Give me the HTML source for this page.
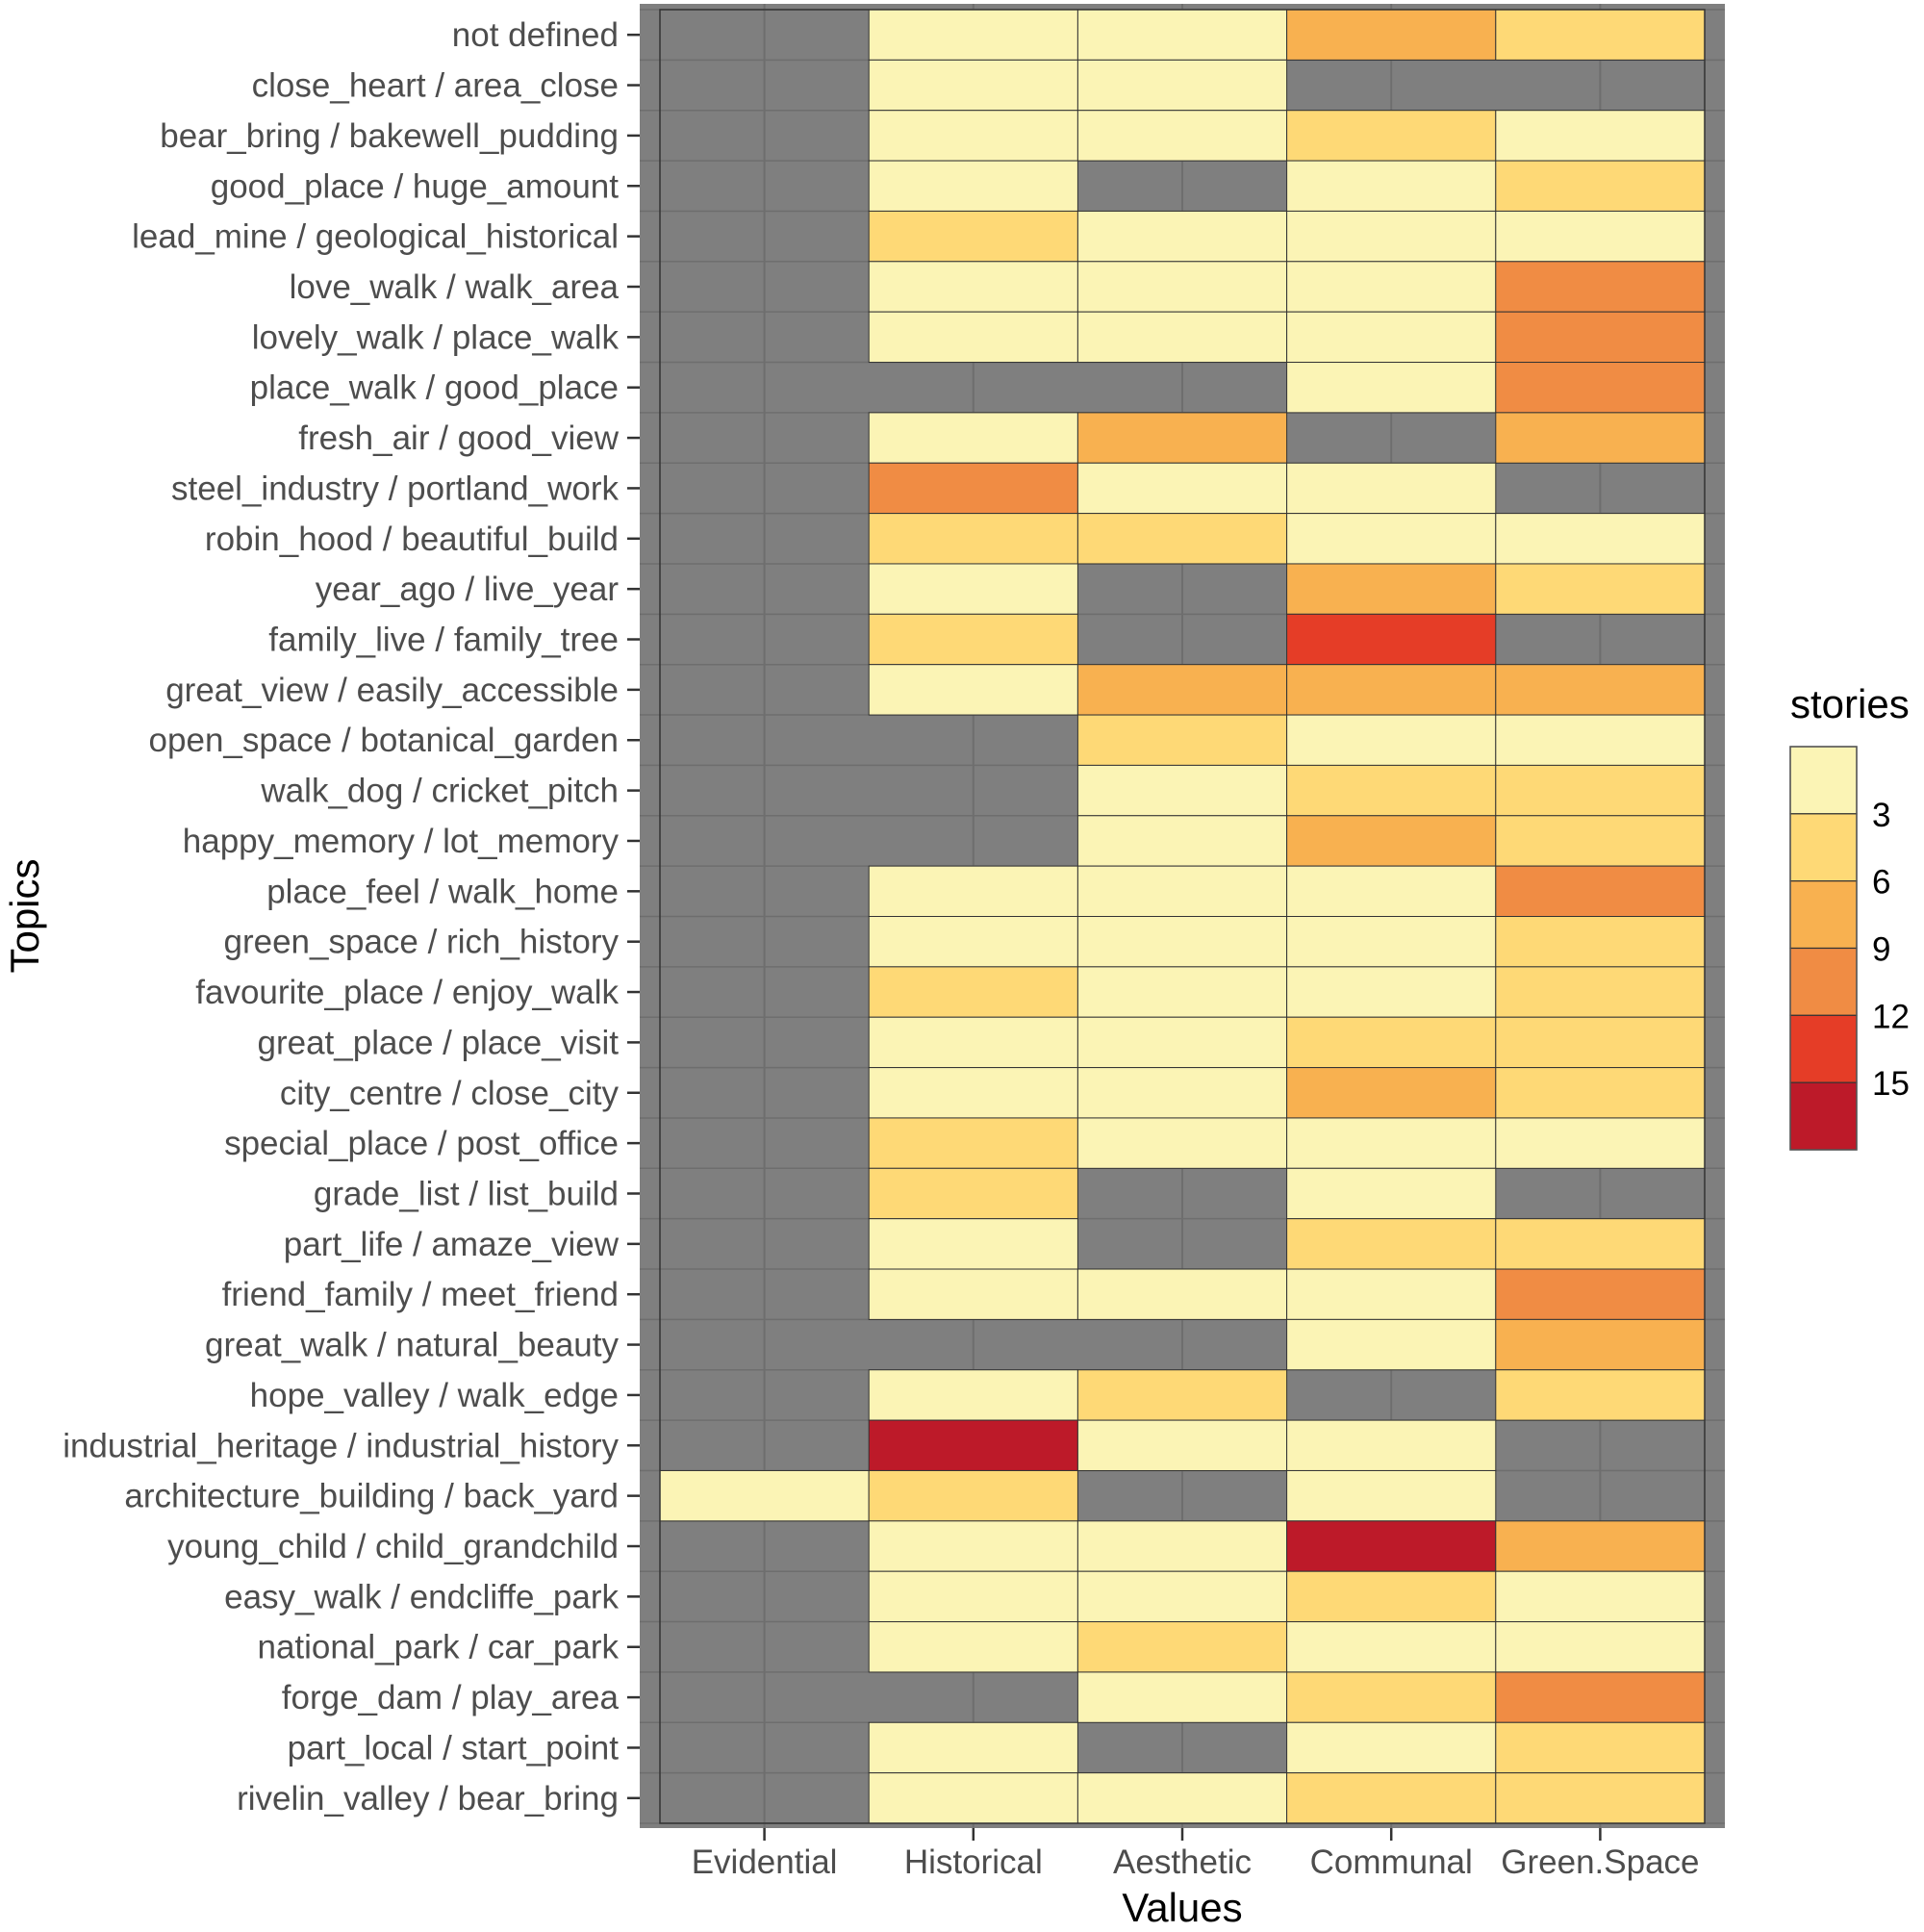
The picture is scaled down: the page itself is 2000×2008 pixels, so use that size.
<!DOCTYPE html>
<html><head><meta charset="utf-8"><style>
html,body{margin:0;padding:0;background:#fff}
svg{display:block;font-family:"Liberation Sans",sans-serif}
</style></head><body>
<svg id="chart" width="2000" height="2008" viewBox="0 0 2000 2008"></svg>
<script>
const topics=["not defined","close_heart / area_close","bear_bring / bakewell_pudding","good_place / huge_amount","lead_mine / geological_historical","love_walk / walk_area","lovely_walk / place_walk","place_walk / good_place","fresh_air / good_view","steel_industry / portland_work","robin_hood / beautiful_build","year_ago / live_year","family_live / family_tree","great_view / easily_accessible","open_space / botanical_garden","walk_dog / cricket_pitch","happy_memory / lot_memory","place_feel / walk_home","green_space / rich_history","favourite_place / enjoy_walk","great_place / place_visit","city_centre / close_city","special_place / post_office","grade_list / list_build","part_life / amaze_view","friend_family / meet_friend","great_walk / natural_beauty","hope_valley / walk_edge","industrial_heritage / industrial_history","architecture_building / back_yard","young_child / child_grandchild","easy_walk / endcliffe_park","national_park / car_park","forge_dam / play_area","part_local / start_point","rivelin_valley / bear_bring"];
const values=["Evidential","Historical","Aesthetic","Communal","Green.Space"];
const N=null;
const stories=[
[N,1,1,7,4],[N,1,1,N,N],[N,1,1,4,1],[N,1,N,1,4],[N,4,1,1,1],[N,1,1,1,10],[N,1,1,1,10],[N,N,N,1,10],
[N,1,7,N,7],[N,10,1,1,N],[N,4,4,1,1],[N,1,N,7,4],[N,4,N,13,N],[N,1,7,7,7],[N,N,4,1,1],[N,N,1,4,4],
[N,N,1,7,4],[N,1,1,1,10],[N,1,1,1,4],[N,4,1,1,4],[N,1,1,4,4],[N,1,1,7,4],[N,4,1,1,1],[N,4,N,1,N],
[N,1,N,4,4],[N,1,1,1,10],[N,N,N,1,7],[N,1,4,N,4],[N,16,1,1,N],[1,4,N,1,N],[N,1,1,16,7],[N,1,1,4,1],
[N,1,4,1,1],[N,N,1,4,10],[N,1,N,1,4],[N,1,1,4,4]];
const breaks=[3,6,9,12,15];
const binColors=["#FBF4B5","#FED976","#F8B150","#F08C44","#E53D27","#BD1A29"];

const svg=document.getElementById('chart');
const NS='http://www.w3.org/2000/svg';
function mk(t,a,p){const e=document.createElementNS(NS,t);for(const k in a)e.setAttribute(k,a[k]);(p||svg).appendChild(e);return e;}
const PX0=665,PX1=1793,PY0=4,PY1=1900;
const TX0=686,TX1=1772,TY0=10,TY1=1895;
const cw=(TX1-TX0)/values.length, rh=(TY1-TY0)/topics.length;
const xc=i=>TX0+cw*(i+0.5), yc=j=>TY0+rh*(j+0.5);
function colorOf(v){let b=0;while(b<breaks.length&&v>=breaks[b])b++;return binColors[b];}

let e=mk('rect',{x:PX0,y:PY0,width:PX1-PX0,height:PY1-PY0,fill:'#7F7F7F'});


for(let j=0;j<=topics.length;j++){const y=TY0+rh*j;e=mk('line',{x1:PX0,x2:PX1,y1:y,y2:y,stroke:'#6e6e6e','stroke-width':1.5});

}
for(let i=0;i<values.length;i++){e=mk('line',{x1:xc(i),x2:xc(i),y1:PY0,y2:PY1,stroke:'#6e6e6e','stroke-width':2});

}
stories.forEach((row,j)=>row.forEach((v,i)=>{
 if(v===null)return;
 const r=mk('rect',{x:TX0+cw*i,y:TY0+rh*j,width:cw,height:rh,fill:colorOf(v),stroke:'#333','stroke-width':1});
 
 
}));
mk('rect',{x:TX0,y:TY0,width:TX1-TX0,height:TY1-TY0,fill:'none',stroke:'#333','stroke-width':1.5});
topics.forEach((t,j)=>{
 e=mk('line',{x1:652,x2:665,y1:yc(j),y2:yc(j),stroke:'#333','stroke-width':2.5});
 
 
 const tx=mk('text',{x:643,y:yc(j)+12,'text-anchor':'end','font-size':35,fill:'#4d4d4d'});tx.textContent=t;
 
 
});
values.forEach((v,i)=>{
 e=mk('line',{x1:xc(i),x2:xc(i),y1:PY1,y2:PY1+13,stroke:'#333','stroke-width':2.5});
 
 
 const tx=mk('text',{x:xc(i),y:1947,'text-anchor':'middle','font-size':35,fill:'#4d4d4d'});tx.textContent=v;
 
 
});
e=mk('text',{x:(PX0+PX1)/2,y:1997,'text-anchor':'middle','font-size':42,fill:'#000'});e.textContent='Values';


e=mk('text',{x:40,y:952,'text-anchor':'middle','font-size':42,fill:'#000',transform:'rotate(-90 40 952)'});e.textContent='Topics';


// legend
e=mk('text',{x:1861,y:746,'font-size':42,fill:'#000'});e.textContent='stories';


const LX=1861,LY=776,LW=69,LH=419,bh=LH/binColors.length;
binColors.forEach((c,k)=>{
 const r=mk('rect',{x:LX,y:LY+bh*k,width:LW,height:bh,fill:c,stroke:'#333','stroke-width':1.2});
 
 
});
mk('rect',{x:LX,y:LY,width:LW,height:LH,fill:'none',stroke:'#555','stroke-width':1.5});
breaks.forEach((b,k)=>{
 const tx=mk('text',{x:1946,y:LY+bh*(k+1)+13,'font-size':35,fill:'#000'});tx.textContent=b;
 
 
});
</script>
</body></html>
